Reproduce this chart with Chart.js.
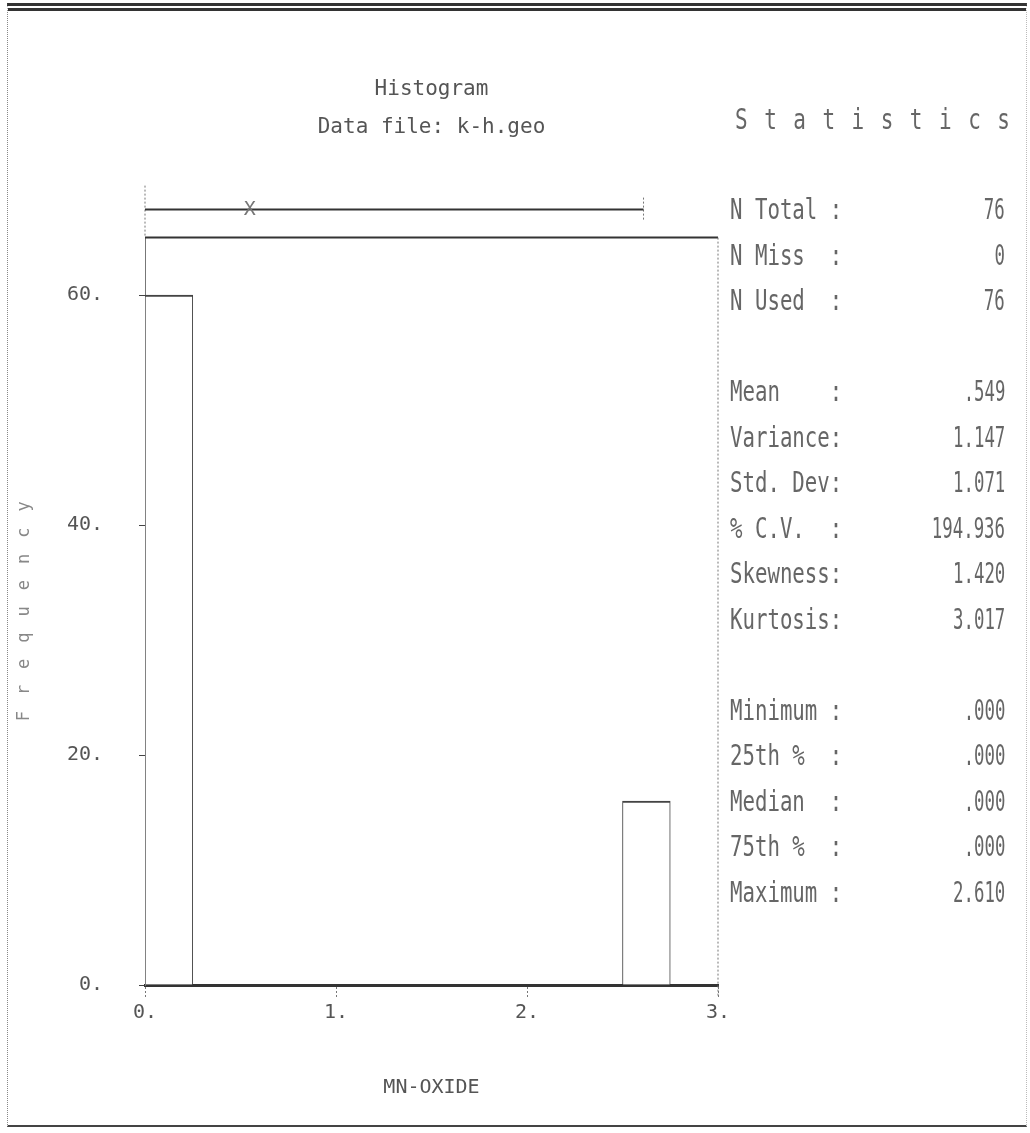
<!DOCTYPE html>
<html>
<head>
<meta charset="utf-8">
<title>Histogram</title>
<script src="https://cdn.jsdelivr.net/npm/chart.js@4.4.1/dist/chart.umd.min.js"></script>
<style>
  body { margin: 0; background: #fff; }
  #page { position: relative; width: 1030px; height: 1133px; overflow: hidden;
          font-family: "DejaVu Sans Mono", monospace; color: #666; }
  #frame { position: absolute; left: 7px; top: 3px; width: 1020px; height: 1124px; box-sizing: border-box;
           border-top: 8px double #333; border-left: 1px dotted #888;
           border-right: 1px dotted #bbb; border-bottom: 2px solid #444; }
  #chart-box { position: absolute; left: 0; top: 0; width: 1030px; height: 1133px; }
  #stats-title { position: absolute; left: 735px; top: 103px; font-size: 28px; line-height: 34px;
                 letter-spacing: 22px; white-space: pre; transform: scaleX(0.75); transform-origin: left center; }
  .lbl, .val { position: absolute; font-size: 28px; line-height: 30px; height: 30px; white-space: pre; }
  .lbl { left: 730px; transform: scaleX(0.74); transform-origin: left center; }
  .val { right: 25px; transform: scaleX(0.62); transform-origin: right center; }
</style>
</head>
<body>
<div id="page">
  <div id="frame"></div>
  <div id="chart-box"><canvas id="hist"></canvas></div>
  <div id="stats-title">Statistics</div>
  <div id="stats"></div>
</div>
<script>
  // histogram bins (width .25) and counts
  const binCenters = [0.125, 0.375, 0.625, 0.875, 1.125, 1.375, 1.625, 1.875, 2.125, 2.375, 2.625, 2.875];
  const binCounts = [60, 0, 0, 0, 0, 0, 0, 0, 0, 0, 16, 0];

  const xTickValues = [0, 1, 2, 3];
  const yTickValues = [0, 20, 40, 60];

  // min / mean / max bar drawn above the plot
  const rangeMin = 0.0;
  const rangeMean = 0.549;
  const rangeMax = 2.61;

  const statLabels = ['N Total', 'N Miss', 'N Used', '', 'Mean', 'Variance', 'Std. Dev', '% C.V.',
                      'Skewness', 'Kurtosis', '', 'Minimum', '25th %', 'Median', '75th %', 'Maximum'];
  const statValues = ['76', '0', '76', '', '.549', '1.147', '1.071', '194.936',
                      '1.420', '3.017', '', '.000', '.000', '.000', '.000', '2.610'];

  // statistics panel
  const statsEl = document.getElementById('stats');
  statLabels.forEach((lbl, i) => {
    if (!lbl) return;
    const top = 210 + i * 45.5 - 15;
    const l = document.createElement('div');
    l.className = 'lbl';
    l.style.top = top + 'px';
    l.textContent = lbl.padEnd(8) + ':';
    const v = document.createElement('div');
    v.className = 'val';
    v.style.top = top + 'px';
    v.textContent = statValues[i];
    statsEl.appendChild(l);
    statsEl.appendChild(v);
  });

  Chart.defaults.font.family = '"DejaVu Sans Mono", monospace';
  Chart.defaults.color = '#555';

  const frameAndRange = {
    id: 'frameAndRange',
    afterDraw(chart) {
      const { ctx, chartArea: a, scales: { x } } = chart;
      const line = (x1, y1, x2, y2) => { ctx.beginPath(); ctx.moveTo(x1, y1); ctx.lineTo(x2, y2); ctx.stroke(); };
      ctx.save();
      ctx.strokeStyle = '#333';
      ctx.lineWidth = 2;
      line(a.left, a.top, a.right, a.top);

      ctx.setLineDash([2, 2]);
      ctx.lineWidth = 1;
      ctx.strokeStyle = '#777';
      line(a.right, a.top, a.right, a.bottom + 12);
      line(a.left, a.top - 52, a.left, a.top);

      const yr = a.top - 28;
      const x0 = x.getPixelForValue(rangeMin);
      const x1 = x.getPixelForValue(rangeMax);
      const xm = x.getPixelForValue(rangeMean);
      line(x1, yr - 12, x1, yr + 12);

      ctx.setLineDash([]);
      ctx.strokeStyle = '#333';
      ctx.lineWidth = 2;
      line(x0, yr, x1, yr);

      ctx.fillStyle = '#777';
      ctx.font = '20px "DejaVu Sans Mono", monospace';
      ctx.textAlign = 'center';
      ctx.textBaseline = 'middle';
      ctx.fillText('X', xm, yr);

      // spaced-out vertical axis label
      ctx.translate(25, (a.top + a.bottom) / 2);
      ctx.rotate(-Math.PI / 2);
      ctx.fillStyle = '#888';
      ctx.font = '17px "DejaVu Sans Mono", monospace';
      ctx.letterSpacing = '16px';
      ctx.fillText('Frequency', 8, 0);
      ctx.restore();
    }
  };

  new Chart(document.getElementById('hist'), {
    type: 'bar',
    data: {
      datasets: [{
        data: binCenters.map((c, i) => ({ x: c, y: binCounts[i] })),
        backgroundColor: '#fff',
        borderColor: '#444',
        borderWidth: { top: 2, left: 1, right: 1, bottom: 0 },
        borderSkipped: 'start',
        barPercentage: 1,
        categoryPercentage: 1
      }]
    },
    options: {
      responsive: true,
      maintainAspectRatio: false,
      animation: false,
      layout: { padding: { left: 10, right: 312, top: 0, bottom: 33 } },
      plugins: {
        legend: { display: false },
        tooltip: { enabled: false },
        title: {
          display: true,
          fullSize: false,
          text: ['Histogram', 'Data file: k-h.geo'],
          color: '#555',
          font: { size: 21, weight: 'normal', lineHeight: 1.8 },
          padding: { top: 71, bottom: 91 }
        }
      },
      scales: {
        x: {
          type: 'linear',
          min: 0,
          max: 3,
          offset: false,
          afterBuildTicks: (s) => { s.ticks = xTickValues.map((v) => ({ value: v })); },
          afterFit: (s) => { s.height = 115; },
          grid: { drawOnChartArea: false, offset: false, tickLength: 12, color: '#777', tickBorderDash: [2, 2] },
          border: { color: '#333', width: 3 },
          ticks: { padding: 4, font: { size: 20 }, callback: (v) => v + '.' },
          title: { display: true, text: 'MN-OXIDE', color: '#555', font: { size: 20 }, padding: 0 }
        },
        y: {
          min: 0,
          max: 65,
          afterBuildTicks: (s) => { s.ticks = yTickValues.map((v) => ({ value: v })); },
          afterFit: (s) => { s.width = 135; },
          grid: { drawOnChartArea: false, tickLength: 6, color: '#444' },
          border: { color: '#777', width: 1, dash: [2, 2] },
          ticks: { padding: 36, font: { size: 20 }, callback: (v) => v + '.' },
          title: { display: false }
        }
      }
    },
    plugins: [frameAndRange]
  });
</script>
</body>
</html>
